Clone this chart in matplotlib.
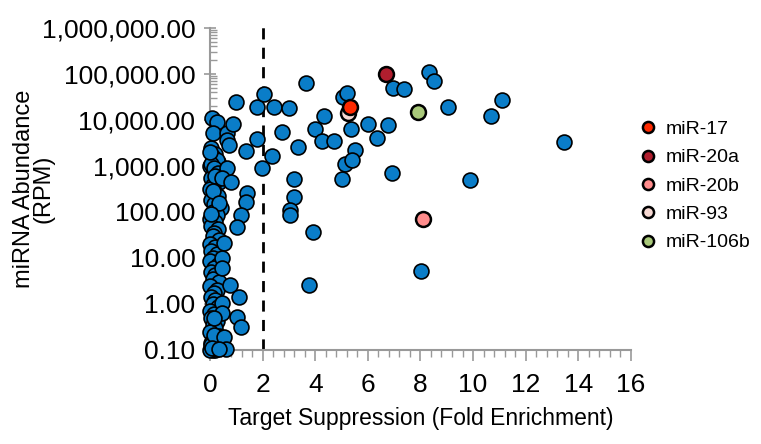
import numpy as np
import matplotlib.pyplot as plt
from matplotlib.ticker import FuncFormatter, LogLocator, MultipleLocator, NullFormatter
from matplotlib.lines import Line2D

plt.rcParams['font.family'] = ['Liberation Sans', 'DejaVu Sans']

# fold enrichment / abundance of all miRNAs (blue)
fold = [
    # dense cluster near zero
    0.05, 0.20, 0.10, 0.30, 0.00, 0.15, 0.25, 0.05, 0.35, 0.10,
    0.00, 0.20, 0.30, 0.05, 0.15, 0.40, 0.10, 0.25, 0.00, 0.20,
    0.05, 0.30, 0.15, 0.10, 0.35, 0.00, 0.20, 0.05, 0.25, 0.10,
    0.00, 0.30, 0.15, 0.05, 0.20, 0.10, 0.35, 0.00, 0.25, 0.15,
    0.05, 0.20, 0.10, 0.30, 0.00, 0.15, 0.05, 0.25, 0.10, 0.20,
    0.00, 0.35, 0.15, 0.05, 0.30, 0.10, 0.20, 0.00, 0.05, 0.15,
    0.10, 0.25, 0.05, 0.15, 0.30, 0.00, 0.20, 0.10, 0.35, 0.05,
    # near-zero points higher up / to the right
    0.08, 0.27, 0.11, 0.65, 0.65, 0.72, 0.88, 0.65, 0.46, 0.80,
    1.41, 1.37, 1.18, 1.03, 0.53, 0.46, 0.46, 0.76, 1.10, 0.46,
    1.03, 1.18, 0.46, 0.15, 0.15, 0.53, 0.08, 0.60, 0.34, 0.99,
    1.79, 1.37, 1.98, 1.79,
    # right of the threshold
    2.06, 2.44, 3.00, 3.66, 2.36, 2.74, 3.35, 3.20, 3.20, 3.05,
    3.05, 3.90, 3.77, 4.00, 4.35, 4.27, 4.72, 5.07, 5.22, 5.37,
    5.52, 5.14, 5.41, 5.00, 6.02, 6.36, 6.78, 6.90, 6.97, 7.39,
    8.34, 8.50, 9.06, 9.90, 10.70, 11.10, 13.45, 8.03,
]
abundance = [
    2500, 1800, 1500, 1200, 1000, 800, 650, 550, 450, 380,
    320, 260, 220, 180, 150, 120, 100, 85, 70, 60,
    50, 42, 35, 30, 25, 20, 17, 14, 12, 10,
    8.5, 7, 6, 5, 4.2, 3.5, 3, 2.5, 2, 1.7,
    1.4, 1.2, 1.0, 0.85, 0.7, 0.6, 0.5, 0.42, 0.35, 0.3,
    0.25, 0.2, 0.17, 0.14, 0.12, 0.1, 0.1, 0.1, 0.13, 0.11,
    1600, 1350, 1100, 900, 700, 2000, 600, 280, 160, 90,
    11000, 9100, 5200, 5200, 3700, 2900, 8100, 910, 550, 450,
    260, 165, 86, 47, 21, 10, 6, 2.6, 1.4, 1.05,
    0.52, 0.32, 0.63, 0.5, 0.21, 0.19, 0.11, 0.105, 0.105, 24500,
    19000, 2100, 910, 3900,
    37000, 19000, 18000, 63000, 1660, 5500, 2600, 520, 215, 110,
    85, 37, 2.6, 6300, 12300, 3500, 3500, 32000, 39000, 6300,
    2240, 1100, 1350, 520, 8100, 4100, 7800, 700, 50000, 47000,
    110000, 70000, 19000, 500, 12300, 27000, 3300, 5.2,
]

# highlighted miR-17 family members
fam_names = ['miR-17', 'miR-20a', 'miR-20b', 'miR-93', 'miR-106b']
fam_fold = [5.33, 6.70, 8.11, 5.26, 7.92]
fam_abund = [19000, 100000, 71, 14200, 14900]
fam_colors = ['#ff2a00', '#b01e2e', '#ff8c8c', '#f6d8d2', '#a9c97a']

fig = plt.figure(figsize=(7.61, 4.44), dpi=100)
ax = fig.add_axes([0.276, 0.212, 0.553, 0.725])

ax.scatter(fold, abundance, s=115, c='#0a7dc8', edgecolors='black',
           linewidths=1.2, zorder=3, clip_on=False)
order = [3, 0, 1, 2, 4]
for i in order:
    ax.scatter(fam_fold[i], fam_abund[i], s=115, c=fam_colors[i],
               edgecolors='black', linewidths=1.8, zorder=4, clip_on=False)

ax.axvline(2, color='black', ls=(0, (4, 3)), lw=2, zorder=2, clip_on=False,
           ymin=0, ymax=1.025)

ax.set_yscale('log')
ax.set_ylim(0.1, 1e6)
ax.set_xlim(0, 16)
ax.yaxis.set_major_locator(LogLocator(base=10, numticks=10))
ax.yaxis.set_minor_locator(LogLocator(base=10, subs=np.arange(2, 10), numticks=10))
ax.yaxis.set_major_formatter(FuncFormatter(lambda v, p: f'{v:,.2f}'))
ax.yaxis.set_minor_formatter(NullFormatter())
ax.xaxis.set_major_locator(MultipleLocator(2))
ax.xaxis.set_minor_locator(MultipleLocator(0.4))

for s in ['top', 'right']:
    ax.spines[s].set_visible(False)
for s in ['left', 'bottom']:
    ax.spines[s].set_color('#999999')
    ax.spines[s].set_linewidth(1.5)

ax.tick_params(axis='y', which='major', direction='inout', length=9,
               color='#999999', width=1.2, labelsize=19, pad=6)
ax.tick_params(axis='y', which='minor', direction='in', length=5,
               color='#999999', width=1.0)
ax.tick_params(axis='x', which='major', direction='out', length=8,
               color='#999999', width=1.2, labelsize=19, pad=9)
ax.tick_params(axis='x', which='minor', direction='out', length=5,
               color='#999999', width=1.0)

ax.set_xlabel('Target Suppression (Fold Enrichment)', fontsize=16.5, labelpad=7)
ax.set_ylabel('miRNA Abundance\n(RPM)', fontsize=17, linespacing=0.85)
ax.yaxis.set_label_coords(-0.37, 0.5)

handles = [Line2D([], [], marker='o', ls='none', markersize=8,
                  markerfacecolor=c, markeredgecolor='black', markeredgewidth=1.8)
           for c in fam_colors]
fig.legend(handles, fam_names, loc='upper left', bbox_to_anchor=(0.813, 0.768),
           frameon=False, fontsize=14, handletextpad=0.3, labelspacing=0.55,
           handlelength=1.2)

fig.savefig('out.png', dpi=100)
